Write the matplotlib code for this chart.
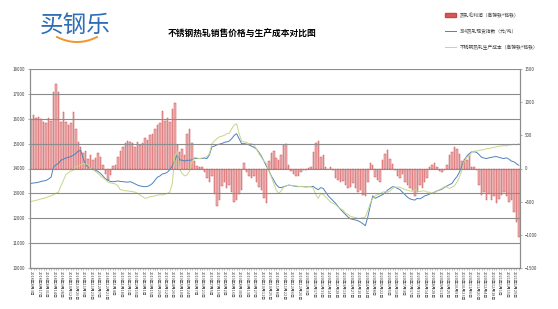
import numpy as np
import pandas as pd
import matplotlib
matplotlib.use('Agg')
import matplotlib.pyplot as plt
from matplotlib.patches import Patch
from matplotlib.lines import Line2D

plt.rcParams['font.family'] = ['Noto Sans CJK SC', 'DejaVu Sans']

# 热轧毛利润 (右轴)
profit = [750, 800, 760, 780, 740, 700, 690, 760, 720, 1150,
          1280, 1150, 700, 850, 700, 650, 680, 850, 600, 400,
          320, 230, 260, 150, 200, 130, 160, 230, 170, 60,
          -80, -170, -100, 40, 60, 180, 260, 320, 380, 420,
          400, 380, 330, 400, 350, 380, 460, 430, 500, 520,
          600, 660, 680, 870, 720, 760, 700, 900, 990, 350,
          250, 300, 200, 520, 600, 380, 120, 40, 30, 20,
          -60, -150, -200, -120, -380, -560, -470, -260, -200, -300,
          -250, -350, -500, -470, -380, -320, 80, -60, -110, -150,
          -120, -200, -280, -330, -450, -520, 120, 230, 270, 160,
          130, 200, 350, 370, 50, -40, -90, -110, -120, -60,
          -20, -30, 10, 20, 250, 380, 420, 180, 200, 30,
          -10, 20, -30, -150, -170, -200, -190, -250, -300, -280,
          -220, -300, -350, -320, -400, -420, -200, 80, 60, -130,
          -170, -200, 130, 220, 280, 150, 70, -20, -120, -150,
          -90, -200, -250, -300, -330, -420, -360, -250, -300, -200,
          -150, 30, 50, 80, 20, -40, -60, -20, 60, 200,
          250, 330, 300, 220, 120, 150, 130, 200, 30, 20,
          -20, -250, -400, -350, -470, -380, -480, -420, -520, -460,
          -400, -350, -420, -500, -480, -650, -800, -1040]

# 304热轧现货指数 (左轴)
index304 = [13400, 13420, 13430, 13450, 13480, 13500, 13520, 13580, 13650, 14050,
            14150, 14200, 14330, 14380, 14420, 14450, 14480, 14530, 14600, 14700,
            14730, 14400, 14150, 14070, 14000, 13970, 13930, 13880, 13800, 13700,
            13580, 13530, 13480, 13470, 13480, 13500, 13480, 13470, 13460, 13450,
            13470, 13430, 13380, 13330, 13300, 13280, 13270, 13280, 13330, 13400,
            13530, 13650, 13700, 13780, 13800, 13850, 13950, 14100, 14330, 14550,
            14350, 14330, 14300, 14330, 14330, 14350, 14400, 14400, 14400, 14400,
            14420, 14400, 14550, 14870, 14900, 14950, 14980, 15000, 15050, 15070,
            15100, 15200, 15330, 15400, 15200, 15000, 15000, 14980, 14950, 14900,
            14850, 14780, 14650, 14500, 14300, 14100, 13930, 13700, 13530, 13350,
            13250, 13230, 13270, 13300, 13330, 13320, 13300, 13280, 13270, 13280,
            13270, 13260, 13270, 13270, 13280, 13200, 13150, 13230, 13200, 13050,
            12900, 12800, 12700, 12600, 12470, 12350, 12250, 12150, 12050, 11980,
            11950, 11930, 11900, 11850, 11780, 11700, 12050, 12500, 12900, 12800,
            12850, 12900, 12950, 13030, 13130, 13200, 13270, 13250, 13200, 13150,
            13050, 12950, 12850, 12780, 12750, 12730, 12800, 12780, 12830, 12900,
            12930, 12980, 13000, 13050, 13100, 13130, 13170, 13250, 13300, 13350,
            13400, 13550, 13670, 13850, 14100, 14330, 14500, 14600, 14670, 14670,
            14650, 14550, 14450, 14420, 14400, 14430, 14450, 14470, 14480, 14450,
            14420, 14400, 14430, 14380, 14300, 14270, 14200, 14130]

# 不锈钢热轧生产成本 (左轴)
cost = [12670, 12700, 12720, 12750, 12780, 12800, 12830, 12870, 12900, 12950,
        13000, 13050, 13300, 13530, 13750, 13830, 13900, 13930, 14070, 14100,
        14150, 14200, 14180, 14150, 14000, 13950, 13880, 13800, 13700, 13620,
        13550, 13450, 13420, 13400, 13380, 13300, 13150, 13130, 13100, 13100,
        13080, 13070, 13050, 13000, 12930, 12870, 12800, 12820, 12870, 12880,
        12900, 12920, 12950, 12930, 12970, 13000, 13050, 13400, 14500, 14700,
        13950, 13800, 13700, 13750, 13900, 14300, 14450, 14420, 14400, 14420,
        14450, 14470, 14600, 15000, 15100, 15200, 15270, 15300, 15330, 15400,
        15420, 15600, 15750, 15800, 15400, 15100, 15070, 15050, 15000, 15000,
        14950, 14780, 14600, 14450, 14300, 14200, 13900, 13670, 13400, 13130,
        13000, 13100, 13250, 13300, 13330, 13320, 13300, 13300, 13280, 13270,
        13270, 13260, 13270, 13270, 13200, 12950, 12800, 13000, 12950, 12850,
        12750, 12650, 12600, 12550, 12450, 12380, 12330, 12200, 12150, 12080,
        12050, 12030, 12000, 12000, 12020, 12050, 12300, 12600, 12800, 12900,
        12950, 12980, 13050, 13070, 13050, 13100, 13200, 13250, 13250, 13250,
        13200, 13150, 13130, 13100, 13080, 13150, 13100, 13070, 13100, 13100,
        13050, 13050, 13000, 13030, 13100, 13150, 13200, 13270, 13250, 13200,
        13250, 13300, 13450, 13650, 13950, 14300, 14450, 14500, 14650, 14700,
        14700, 14730, 14750, 14750, 14800, 14800, 14830, 14850, 14870, 14900,
        14900, 14930, 14900, 14950, 14950, 14980, 14950, 15000]

label_dates = pd.date_range('2018-08-03', periods=66, freq='14D')
tick_labels = [f"{d.year}年{d.month}月{d.day}日" for d in label_dates]

legend_labels = ['热轧毛利润（高镍铁+铬铁）',
                 '304热轧现货指数（元/吨）',
                 '不锈钢热轧生产成本（高镍铁+铬铁）']

gray = '#8c8c8c'
x = np.arange(len(profit))

fig = plt.figure(figsize=(5.58, 3.09), dpi=100)
ax = fig.add_axes([30/558, 1 - 268/309, 490/558, 199/309])
ax2 = ax.twinx()

# bars behind the lines
ax2.set_zorder(ax.get_zorder() - 1)
ax.patch.set_visible(False)

ax2.bar(x, profit, width=0.6, color='#f0b4b4', edgecolor='#cc4f52', linewidth=0.35)
ax2.set_ylim(-1500, 1500)
ax2.set_yticks([1500, 1000, 500, 0, -500, -1000, -1500])

ax.plot(x, index304, color='#4f81bd', lw=0.7)
ax.plot(x, cost, color='#c6d68a', lw=0.7)
ax.set_ylim(10000, 18000)
ax.set_yticks(np.arange(10000, 18001, 1000))
ax.set_xlim(-0.5, len(profit) - 0.5)
ax.grid(axis='y', color=gray, lw=0.8)
ax.set_axisbelow(False)

ax.set_xticks(x[::3])
ax.set_xticklabels(tick_labels, rotation=-90, fontsize=2.8, color='#404040')
ax.set_xticks(x, minor=True)

for a in (ax, ax2):
    a.spines['top'].set_visible(False)
    for s in ('left', 'right', 'bottom'):
        a.spines[s].set_color(gray)
        a.spines[s].set_linewidth(0.8)
    a.tick_params(axis='y', labelsize=3.2, colors=gray, labelcolor='#404040',
                  length=1.5, width=0.5, pad=2)
ax.tick_params(axis='x', which='both', length=1.2, width=0.4, colors=gray,
               labelcolor='#404040', pad=1)

# title and logo
fig.text(242/558, 1 - 34/309, '不锈钢热轧销售价格与生产成本对比图',
         fontsize=6.3, fontweight='bold', ha='center', va='center')
fig.text(75/558, 1 - 25/309, '买钢乐', fontsize=17, color='#2f6db5',
         ha='center', va='center')
t = np.linspace(-1, 1, 30)
smile_x = (77 + 20 * t) / 558
smile_y = 1 - (37 + 5 * (1 - t ** 2)) / 309
fig.add_artist(Line2D(smile_x, smile_y, transform=fig.transFigure,
                      color='#f0962a', lw=1.4, zorder=10))

handles = [Patch(facecolor='#d9595b', edgecolor='#c8484a'),
           Line2D([], [], color='#4f81bd', lw=0.7),
           Line2D([], [], color='#c6d68a', lw=0.7)]
fig.legend(handles, legend_labels, loc='upper left',
           bbox_to_anchor=(441/558, 1 - 8/309), frameon=False, fontsize=3.4,
           handlelength=2.2, handleheight=0.9, labelspacing=2.3,
           labelcolor='#404040')

fig.savefig('out.png', dpi=100)
